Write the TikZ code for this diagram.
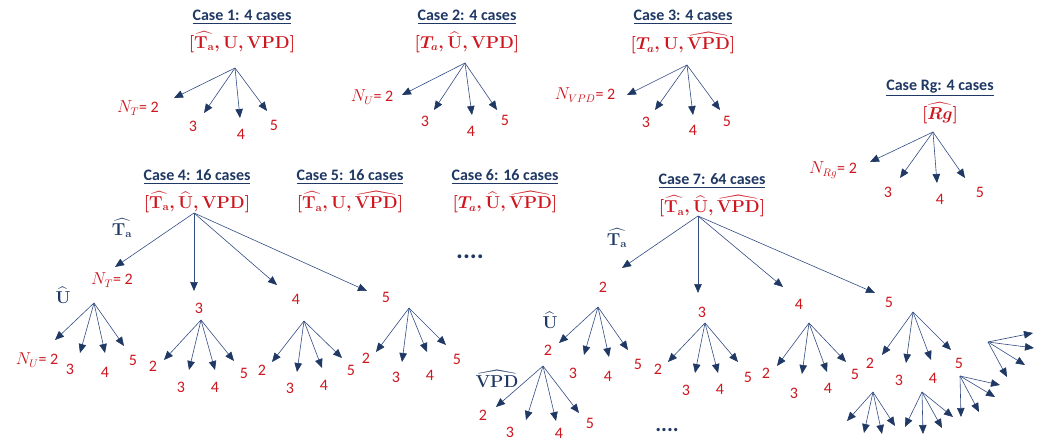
\documentclass[tikz,border=0pt]{standalone}
\usepackage{amsmath}
\usepackage{amssymb}
\usepackage[no-math]{fontspec}
\setmainfont{Carlito}
\usepackage{tikz}
\definecolor{cnavy}{RGB}{31,56,100}
\definecolor{cred}{RGB}{205,22,30}
\definecolor{cline}{RGB}{50,76,130}
\usetikzlibrary{arrows.meta}
\begin{document}
\begin{tikzpicture}[
every node/.style={inner sep=0pt},
title/.style={text=cnavy, font=\fontsize{16}{18}\selectfont\bfseries},
combo/.style={text=cred, font=\fontsize{16}{18}\selectfont\boldmath},
num/.style={text=cred, font=\fontsize{16}{18}\selectfont},
var/.style={text=cnavy, font=\fontsize{16}{18}\selectfont\boldmath},
dots/.style={text=cnavy, font=\fontsize{26}{28}\selectfont\bfseries},
arr/.style={line width=0.6pt, color=cline, -{Triangle[length=9pt, width=7.5pt, color=cnavy]}}]
\useasboundingbox (0pt, 0pt) rectangle (1042pt, -441pt);
\node (c1t) [title] at (242pt, -17pt) {\underline{Case 1: 4 cases}};
\node (c1b) [combo] at (242pt, -42pt) {$[\widehat{\mathbf{T_a}}, \mathbf{U}, \mathbf{VPD}]$};
\coordinate (c1r) at (235pt, -68pt);
\node (c1n2) [num] at (138pt, -108pt) {$N_T$= 2};
\node (c1n3) [num] at (193pt, -126pt) {3};
\node (c1n4) [num] at (241pt, -134pt) {4};
\node (c1n5) [num] at (274pt, -125pt) {5};
\coordinate (c1e2) at (174pt, -98pt);
\coordinate (c1e3) at (204pt, -113pt);
\coordinate (c1e4) at (240pt, -118pt);
\coordinate (c1e5) at (267pt, -111pt);
\draw [arr] (c1r) to (c1e2);
\draw [arr] (c1r) to (c1e3);
\draw [arr] (c1r) to (c1e4);
\draw [arr] (c1r) to (c1e5);
\node (c2t) [title] at (467pt, -17pt) {\underline{Case 2: 4 cases}};
\node (c2b) [combo] at (467pt, -42pt) {$[T_a, \widehat{\mathbf{U}}, \mathbf{VPD}]$};
\coordinate (c2r) at (465pt, -63pt);
\node (c2n2) [num] at (372pt, -97pt) {$N_U$= 2};
\node (c2n3) [num] at (425pt, -121pt) {3};
\node (c2n4) [num] at (471pt, -131pt) {4};
\node (c2n5) [num] at (505pt, -120pt) {5};
\coordinate (c2e2) at (402pt, -95pt);
\coordinate (c2e3) at (434pt, -110pt);
\coordinate (c2e4) at (472pt, -115pt);
\coordinate (c2e5) at (497pt, -110pt);
\draw [arr] (c2r) to (c2e2);
\draw [arr] (c2r) to (c2e3);
\draw [arr] (c2r) to (c2e4);
\draw [arr] (c2r) to (c2e5);
\node (c3t) [title] at (683pt, -17pt) {\underline{Case 3: 4 cases}};
\node (c3b) [combo] at (683pt, -43pt) {$[T_a, \mathbf{U}, \widehat{\mathbf{VPD}}]$};
\coordinate (c3r) at (687pt, -65pt);
\node (c3n2) [num] at (585pt, -95pt) {$N_{VPD}$= 2};
\node (c3n3) [num] at (646pt, -122pt) {3};
\node (c3n4) [num] at (693pt, -130pt) {4};
\node (c3n5) [num] at (727pt, -121pt) {5};
\coordinate (c3e2) at (627pt, -95pt);
\coordinate (c3e3) at (655pt, -110pt);
\coordinate (c3e4) at (693pt, -115pt);
\coordinate (c3e5) at (720pt, -110pt);
\draw [arr] (c3r) to (c3e2);
\draw [arr] (c3r) to (c3e3);
\draw [arr] (c3r) to (c3e4);
\draw [arr] (c3r) to (c3e5);
\node (rgt) [title] at (940pt, -88pt) {\underline{Case Rg: 4 cases}};
\node (rgb) [combo] at (940pt, -113pt) {$[\widehat{Rg}]$};
\coordinate (rgr) at (933pt, -132pt);
\node (rgn2) [num] at (833pt, -170pt) {$N_{Rg}$= 2};
\node (rgn3) [num] at (888pt, -192pt) {3};
\node (rgn4) [num] at (940pt, -199pt) {4};
\node (rgn5) [num] at (980pt, -192pt) {5};
\coordinate (rge2) at (870pt, -162pt);
\coordinate (rge3) at (900pt, -178pt);
\coordinate (rge4) at (937pt, -183pt);
\coordinate (rge5) at (965pt, -178pt);
\draw [arr] (rgr) to (rge2);
\draw [arr] (rgr) to (rge3);
\draw [arr] (rgr) to (rge4);
\draw [arr] (rgr) to (rge5);
\node (c4t) [title] at (197pt, -177pt) {\underline{Case 4: 16 cases}};
\node (c4b) [combo] at (197pt, -202pt) {$[\widehat{\mathbf{T_a}}, \widehat{\mathbf{U}}, \mathbf{VPD}]$};
\coordinate (c4r) at (194pt, -213pt);
\node (c4ta) [var] at (122pt, -228pt) {$\widehat{\mathbf{T_a}}$};
\node (c4n2) [num] at (112pt, -280pt) {$N_T$= 2};
\node (c4n3) [num] at (199pt, -308pt) {3};
\node (c4n4) [num] at (296pt, -299pt) {4};
\node (c4n5) [num] at (386pt, -297pt) {5};
\coordinate (c4e2) at (115pt, -267pt);
\coordinate (c4e3) at (194pt, -291pt);
\coordinate (c4e4) at (277pt, -285pt);
\coordinate (c4e5) at (367pt, -291pt);
\draw [arr] (c4r) to (c4e2);
\draw [arr] (c4r) to (c4e3);
\draw [arr] (c4r) to (c4e4);
\draw [arr] (c4r) to (c4e5);
\node (c4u) [var] at (63pt, -295pt) {$\widehat{\mathbf{U}}$};
\coordinate (c4ar) at (94pt, -303pt);
\node (c4a2) [num] at (37pt, -360pt) {$N_U$= 2};
\node (c4a3) [num] at (70pt, -369pt) {3};
\node (c4a4) [num] at (105pt, -372pt) {4};
\node (c4a5) [num] at (133pt, -360pt) {5};
\coordinate (c4ae2) at (55pt, -340pt);
\coordinate (c4ae3) at (80pt, -353pt);
\coordinate (c4ae4) at (105pt, -353pt);
\coordinate (c4ae5) at (124pt, -346pt);
\draw [arr] (c4ar) to (c4ae2);
\draw [arr] (c4ar) to (c4ae3);
\draw [arr] (c4ar) to (c4ae4);
\draw [arr] (c4ar) to (c4ae5);
\coordinate (c4br) at (201pt, -320pt);
\node (c4b2) [num] at (153pt, -366pt) {2};
\node (c4b3) [num] at (181pt, -387pt) {3};
\node (c4b4) [num] at (215pt, -387pt) {4};
\node (c4b5) [num] at (244pt, -373pt) {5};
\coordinate (c4be2) at (164pt, -360pt);
\coordinate (c4be3) at (189pt, -370pt);
\coordinate (c4be4) at (215pt, -370pt);
\coordinate (c4be5) at (234pt, -361pt);
\draw [arr] (c4br) to (c4be2);
\draw [arr] (c4br) to (c4be3);
\draw [arr] (c4br) to (c4be4);
\draw [arr] (c4br) to (c4be5);
\coordinate (c4cr) at (304pt, -321pt);
\node (c4c2) [num] at (262pt, -370pt) {2};
\node (c4c3) [num] at (290pt, -388pt) {3};
\node (c4c4) [num] at (324pt, -385pt) {4};
\node (c4c5) [num] at (351pt, -370pt) {5};
\coordinate (c4ce2) at (272pt, -362pt);
\coordinate (c4ce3) at (297pt, -372pt);
\coordinate (c4ce4) at (322pt, -368pt);
\coordinate (c4ce5) at (342pt, -358pt);
\draw [arr] (c4cr) to (c4ce2);
\draw [arr] (c4cr) to (c4ce3);
\draw [arr] (c4cr) to (c4ce4);
\draw [arr] (c4cr) to (c4ce5);
\coordinate (c4dr) at (409pt, -308pt);
\node (c4d2) [num] at (366pt, -358pt) {2};
\node (c4d3) [num] at (396pt, -377pt) {3};
\node (c4d4) [num] at (430pt, -375pt) {4};
\node (c4d5) [num] at (457pt, -359pt) {5};
\coordinate (c4de2) at (376pt, -352pt);
\coordinate (c4de3) at (402pt, -362pt);
\coordinate (c4de4) at (427pt, -352pt);
\coordinate (c4de5) at (446pt, -345pt);
\draw [arr] (c4dr) to (c4de2);
\draw [arr] (c4dr) to (c4de3);
\draw [arr] (c4dr) to (c4de4);
\draw [arr] (c4dr) to (c4de5);
\node (c5t) [title] at (350pt, -177pt) {\underline{Case 5: 16 cases}};
\node (c5b) [combo] at (350pt, -202pt) {$[\widehat{\mathbf{T_a}}, \mathbf{U}, \widehat{\mathbf{VPD}}]$};
\node (c6t) [title] at (505pt, -177pt) {\underline{Case 6: 16 cases}};
\node (c6b) [combo] at (505pt, -202pt) {$[T_a, \widehat{\mathbf{U}}, \widehat{\mathbf{VPD}}]$};
\node (c6d) [dots] at (470pt, -257pt) {....};
\node (c7t) [title] at (712pt, -181pt) {\underline{Case 7: 64 cases}};
\node (c7b) [combo] at (712pt, -206pt) {$[\widehat{\mathbf{T_a}}, \widehat{\mathbf{U}}, \widehat{\mathbf{VPD}}]$};
\coordinate (c7r) at (698pt, -216pt);
\node (c7ta) [var] at (617pt, -238pt) {$\widehat{\mathbf{T_a}}$};
\node (c7n2) [num] at (603pt, -287pt) {2};
\node (c7n3) [num] at (702pt, -312pt) {3};
\node (c7n4) [num] at (799pt, -304pt) {4};
\node (c7n5) [num] at (889pt, -302pt) {5};
\coordinate (c7e2) at (622pt, -268pt);
\coordinate (c7e3) at (698pt, -293pt);
\coordinate (c7e4) at (783pt, -287pt);
\coordinate (c7e5) at (875pt, -293pt);
\draw [arr] (c7r) to (c7e2);
\draw [arr] (c7r) to (c7e3);
\draw [arr] (c7r) to (c7e4);
\draw [arr] (c7r) to (c7e5);
\node (c7u) [var] at (550pt, -320pt) {$\widehat{\mathbf{U}}$};
\coordinate (c7ar) at (598pt, -307pt);
\node (c7a2) [num] at (548pt, -350pt) {2};
\node (c7a3) [num] at (573pt, -373pt) {3};
\node (c7a4) [num] at (608pt, -376pt) {4};
\node (c7a5) [num] at (638pt, -364pt) {5};
\coordinate (c7ae2) at (559pt, -343pt);
\coordinate (c7ae3) at (584pt, -355pt);
\coordinate (c7ae4) at (609pt, -357pt);
\coordinate (c7ae5) at (628pt, -350pt);
\draw [arr] (c7ar) to (c7ae2);
\draw [arr] (c7ar) to (c7ae3);
\draw [arr] (c7ar) to (c7ae4);
\draw [arr] (c7ar) to (c7ae5);
\node (c7v) [var] at (497pt, -379pt) {$\widehat{\mathbf{VPD}}$};
\coordinate (c7vr) at (543pt, -366pt);
\node (c7v2) [num] at (483pt, -415pt) {2};
\node (c7v3) [num] at (510pt, -432pt) {3};
\node (c7v4) [num] at (559pt, -433pt) {4};
\node (c7v5) [num] at (590pt, -423pt) {5};
\coordinate (c7ve2) at (496pt, -407pt);
\coordinate (c7ve3) at (526pt, -420pt);
\coordinate (c7ve4) at (556pt, -421pt);
\coordinate (c7ve5) at (579pt, -413pt);
\draw [arr] (c7vr) to (c7ve2);
\draw [arr] (c7vr) to (c7ve3);
\draw [arr] (c7vr) to (c7ve4);
\draw [arr] (c7vr) to (c7ve5);
\node (c7d) [dots, font=\fontsize{22}{24}\selectfont\bfseries] at (667pt, -430pt) {....};
\coordinate (c7br) at (705pt, -323pt);
\node (c7b2) [num] at (658pt, -369pt) {2};
\node (c7b3) [num] at (686pt, -390pt) {3};
\node (c7b4) [num] at (720pt, -389pt) {4};
\node (c7b5) [num] at (748pt, -377pt) {5};
\coordinate (c7be2) at (668pt, -362pt);
\coordinate (c7be3) at (695pt, -373pt);
\coordinate (c7be4) at (718pt, -373pt);
\coordinate (c7be5) at (738pt, -362pt);
\draw [arr] (c7br) to (c7be2);
\draw [arr] (c7br) to (c7be3);
\draw [arr] (c7br) to (c7be4);
\draw [arr] (c7br) to (c7be5);
\coordinate (c7cr) at (809pt, -323pt);
\node (c7c2) [num] at (766pt, -373pt) {2};
\node (c7c3) [num] at (794pt, -393pt) {3};
\node (c7c4) [num] at (828pt, -388pt) {4};
\node (c7c5) [num] at (855pt, -374pt) {5};
\coordinate (c7ce2) at (777pt, -366pt);
\coordinate (c7ce3) at (802pt, -374pt);
\coordinate (c7ce4) at (827pt, -372pt);
\coordinate (c7ce5) at (846pt, -362pt);
\draw [arr] (c7cr) to (c7ce2);
\draw [arr] (c7cr) to (c7ce3);
\draw [arr] (c7cr) to (c7ce4);
\draw [arr] (c7cr) to (c7ce5);
\coordinate (c7dr) at (913pt, -312pt);
\node (c7d2) [num] at (870pt, -363pt) {2};
\node (c7d3) [num] at (899pt, -380pt) {3};
\node (c7d4) [num] at (933pt, -378pt) {4};
\node (c7d5) [num] at (959pt, -363pt) {5};
\coordinate (c7de2) at (882pt, -355pt);
\coordinate (c7de3) at (906pt, -363pt);
\coordinate (c7de4) at (931pt, -360pt);
\coordinate (c7de5) at (951pt, -350pt);
\draw [arr] (c7dr) to (c7de2);
\draw [arr] (c7dr) to (c7de3);
\draw [arr] (c7dr) to (c7de4);
\draw [arr] (c7dr) to (c7de5);
\coordinate (c7fr) at (873pt, -392pt);
\coordinate (c7fe1) at (847pt, -421pt);
\coordinate (c7fe2) at (864pt, -433pt);
\coordinate (c7fe3) at (882pt, -434pt);
\coordinate (c7fe4) at (895pt, -426pt);
\draw [arr] (c7fr) to (c7fe1);
\draw [arr] (c7fr) to (c7fe2);
\draw [arr] (c7fr) to (c7fe3);
\draw [arr] (c7fr) to (c7fe4);
\coordinate (c7gr) at (922pt, -392pt);
\coordinate (c7ge1) at (905pt, -427pt);
\coordinate (c7ge2) at (923pt, -434pt);
\coordinate (c7ge3) at (942pt, -428pt);
\coordinate (c7ge4) at (953pt, -417pt);
\draw [arr] (c7gr) to (c7ge1);
\draw [arr] (c7gr) to (c7ge2);
\draw [arr] (c7gr) to (c7ge3);
\draw [arr] (c7gr) to (c7ge4);
\coordinate (c7hr) at (960pt, -376pt);
\coordinate (c7he1) at (961pt, -417pt);
\coordinate (c7he2) at (979pt, -412pt);
\coordinate (c7he3) at (995pt, -397pt);
\coordinate (c7he4) at (1000pt, -385pt);
\draw [arr] (c7hr) to (c7he1);
\draw [arr] (c7hr) to (c7he2);
\draw [arr] (c7hr) to (c7he3);
\draw [arr] (c7hr) to (c7he4);
\coordinate (c7kr) at (988pt, -342pt);
\coordinate (c7ke1) at (1033pt, -333pt);
\coordinate (c7ke2) at (1034pt, -348pt);
\coordinate (c7ke3) at (1025pt, -365pt);
\coordinate (c7ke4) at (1007pt, -377pt);
\draw [arr] (c7kr) to (c7ke1);
\draw [arr] (c7kr) to (c7ke2);
\draw [arr] (c7kr) to (c7ke3);
\draw [arr] (c7kr) to (c7ke4);
\end{tikzpicture}
\end{document}
